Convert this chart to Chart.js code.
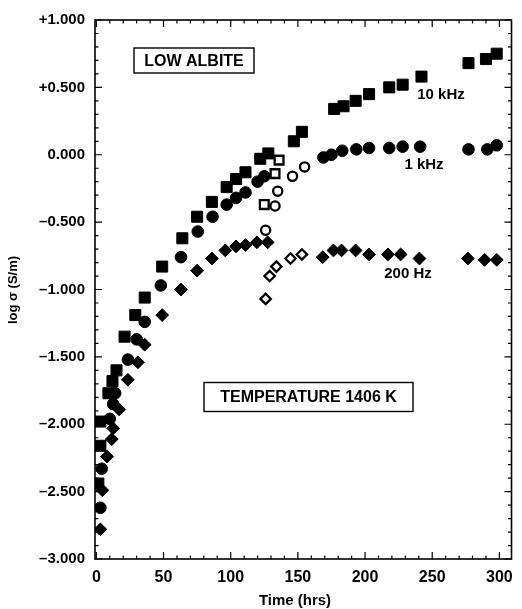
<!DOCTYPE html>
<html><head><meta charset="utf-8">
<script src="https://cdn.jsdelivr.net/npm/chart.js@4.4.0/dist/chart.umd.min.js"></script>
<style>html,body{margin:0;padding:0;background:#fff;} canvas{display:block;}</style>
</head><body>
<canvas id="c" width="522" height="609"></canvas>
<script>
// ---- data ----
const time10kFilled = [1.5, 3, 3, 9, 12, 15, 21, 29, 36, 49, 64, 75, 86, 97, 104, 111, 122, 128, 147, 153, 177, 184, 193, 203, 218, 228, 242, 277, 290, 298];
const logS10kFilled = [-2.44, -2.16, -1.98, -1.77, -1.68, -1.60, -1.35, -1.19, -1.06, -0.83, -0.62, -0.46, -0.35, -0.24, -0.18, -0.13, -0.03, 0.01, 0.10, 0.17, 0.34, 0.36, 0.40, 0.45, 0.50, 0.52, 0.58, 0.68, 0.71, 0.75];
const time10kOpen = [125, 133, 136];
const logS10kOpen = [-0.37, -0.14, -0.04];

const time1kFilled = [3, 4, 10, 12.5, 14, 23.5, 30, 36, 48, 63, 75.5, 86.5, 97, 104, 111, 120, 125, 169, 175, 183, 193.5, 203, 218, 228, 241, 277, 291, 298];
const logS1kFilled = [-2.62, -2.33, -1.96, -1.85, -1.77, -1.52, -1.37, -1.24, -0.97, -0.76, -0.57, -0.46, -0.37, -0.32, -0.28, -0.20, -0.16, -0.02, 0.00, 0.03, 0.04, 0.05, 0.05, 0.06, 0.06, 0.04, 0.04, 0.07];
const time1kOpen = [126, 133, 135, 146, 155];
const logS1kOpen = [-0.56, -0.38, -0.27, -0.16, -0.09];

const time200Filled = [3, 4.5, 8, 11.5, 12.5, 17, 23.5, 31, 36, 49, 63, 75, 86, 96, 104, 111, 119.5, 127.5, 168.5, 176.5, 182.5, 193, 203, 217, 226.5, 240.5, 276.5, 289, 298];
const logS200Filled = [-2.78, -2.49, -2.24, -2.11, -2.03, -1.89, -1.67, -1.54, -1.41, -1.19, -1.00, -0.86, -0.77, -0.71, -0.68, -0.67, -0.65, -0.65, -0.76, -0.71, -0.71, -0.71, -0.74, -0.74, -0.74, -0.77, -0.77, -0.78, -0.78];
const time200Open = [126, 129, 134, 144.5, 153];
const logS200Open = [-1.07, -0.90, -0.83, -0.77, -0.74];

const xTicks = [0, 50, 100, 150, 200, 250, 300];
const yTicks = [-3, -2.5, -2, -1.5, -1, -0.5, 0, 0.5, 1];
const seriesLabels = ['10 kHz', '1 kHz', '200 Hz'];

// ---- chart ----
const FONT = "'Liberation Sans', Arial, Helvetica, sans-serif";
function pts(xs, ys) { return xs.map((v, i) => ({ x: v, y: ys[i] })); }
function fmtY(v) {
  if (Math.abs(v) < 1e-9) return '0.000';
  return (v > 0 ? '+' : '\u2013') + Math.abs(v).toFixed(3);
}

const axisPlugin = {
  id: 'axisFrame',
  beforeDatasetsDraw(chart) {
    const { ctx, chartArea: a, scales: { x, y } } = chart;
    ctx.save();
    ctx.strokeStyle = '#000';
    ctx.lineWidth = 1.6;
    ctx.strokeRect(a.left, a.top, a.right - a.left, a.bottom - a.top);
    ctx.lineWidth = 1.2;
    ctx.beginPath();
    const xStep = (xTicks[1] - xTicks[0]) / 5;
    for (let i = 0; i <= (xTicks[xTicks.length - 1] - xTicks[0]) / xStep; i++) {
      const t = xTicks[0] + i * xStep;
      const px = x.getPixelForValue(t);
      const L = (i % 5 === 0) ? 7 : 3.5;
      ctx.moveTo(px, a.bottom); ctx.lineTo(px, a.bottom - L);
      ctx.moveTo(px, a.top); ctx.lineTo(px, a.top + L);
    }
    const yStep = (yTicks[1] - yTicks[0]) / 5;
    for (let i = 0; i <= Math.round((yTicks[yTicks.length - 1] - yTicks[0]) / yStep); i++) {
      const v = yTicks[0] + i * yStep;
      const py = y.getPixelForValue(v);
      const L = (i % 5 === 0) ? 7 : 3.5;
      ctx.moveTo(a.left, py); ctx.lineTo(a.left + L, py);
      ctx.moveTo(a.right, py); ctx.lineTo(a.right - L, py);
    }
    ctx.stroke();
    ctx.restore();
  },
  afterDraw(chart) {
    const { ctx } = chart;
    ctx.save();
    ctx.fillStyle = '#000';
    ctx.strokeStyle = '#000';
    ctx.textBaseline = 'middle';
    ctx.textAlign = 'center';
    function box(text, cx, cy, w, h) {
      ctx.fillStyle = '#fff';
      ctx.fillRect(cx - w / 2, cy - h / 2, w, h);
      ctx.lineWidth = 1.4;
      ctx.strokeRect(cx - w / 2, cy - h / 2, w, h);
      ctx.fillStyle = '#000';
      ctx.font = 'bold 16px ' + FONT;
      ctx.fillText(text, cx, cy + 1);
    }
    box('LOW ALBITE', 194, 60.5, 120, 25);
    box('TEMPERATURE 1406 K', 308.5, 397, 209, 29);
    ctx.font = 'bold 15px ' + FONT;
    ctx.fillText(seriesLabels[0], 441, 95);
    ctx.fillText(seriesLabels[1], 424, 165);
    ctx.fillText(seriesLabels[2], 408, 274);
    ctx.font = 'bold 15px ' + FONT;
    ctx.fillText('Time (hrs)', 295, 601);
    ctx.translate(13, 290);
    ctx.rotate(-Math.PI / 2);
    ctx.font = 'bold 13px ' + FONT;
    ctx.fillText('log \u03c3 (S/m)', 0, 0);
    ctx.restore();
  }
};

const filled = { backgroundColor: '#000', borderColor: '#000', borderWidth: 1 };
const open = { backgroundColor: '#fff', borderColor: '#000', borderWidth: 2.3 };

new Chart(document.getElementById('c'), {
  type: 'scatter',
  data: {
    datasets: [
      Object.assign({ label: seriesLabels[0], data: pts(time10kFilled, logS10kFilled), pointStyle: 'rect', pointRadius: 7.8 }, filled),
      Object.assign({ label: seriesLabels[0] + ' (open)', data: pts(time10kOpen, logS10kOpen), pointStyle: 'rect', pointRadius: 6.2 }, open),
      Object.assign({ label: seriesLabels[1], data: pts(time1kFilled, logS1kFilled), pointStyle: 'circle', pointRadius: 5.8 }, filled),
      Object.assign({ label: seriesLabels[1] + ' (open)', data: pts(time1kOpen, logS1kOpen), pointStyle: 'circle', pointRadius: 4.6 }, open),
      Object.assign({ label: seriesLabels[2], data: pts(time200Filled, logS200Filled), pointStyle: 'rectRot', pointRadius: 6.4 }, filled),
      Object.assign({ label: seriesLabels[2] + ' (open)', data: pts(time200Open, logS200Open), pointStyle: 'rectRot', pointRadius: 5.2 }, open)
    ]
  },
  options: {
    responsive: false,
    animation: false,
    events: [],
    layout: { padding: { top: 20, right: 5, left: 0, bottom: 0 } },
    plugins: { legend: { display: false }, tooltip: { enabled: false } },
    scales: {
      x: {
        type: 'linear', min: -1, max: 309,
        afterBuildTicks: s => { s.ticks = xTicks.map(v => ({ value: v })); },
        afterFit: s => { s.height = 50; },
        grid: { display: false, drawTicks: false },
        border: { display: false },
        ticks: { color: '#000', font: { family: FONT, size: 16, weight: 'bold' }, padding: 9, maxRotation: 0, autoSkip: false }
      },
      y: {
        type: 'linear', min: -3, max: 1,
        afterBuildTicks: s => { s.ticks = yTicks.map(v => ({ value: v })); },
        afterFit: s => { s.width = 95; },
        grid: { display: false, drawTicks: false },
        border: { display: false },
        ticks: { color: '#000', font: { family: FONT, size: 15, weight: 'bold' }, padding: 10, autoSkip: false, callback: v => fmtY(v) }
      }
    }
  },
  plugins: [axisPlugin]
});
</script>
</body></html>
